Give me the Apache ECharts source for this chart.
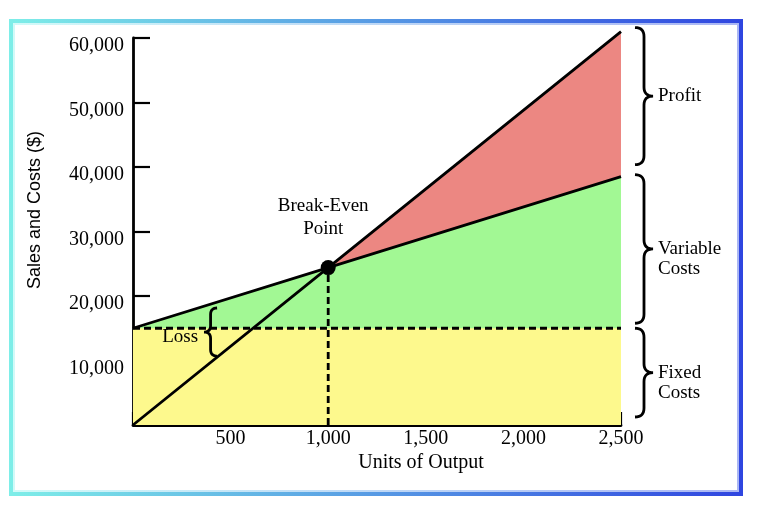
<!DOCTYPE html>
<html>
<head>
<meta charset="utf-8">
<script src="https://cdn.jsdelivr.net/npm/echarts@6/dist/echarts.min.js"></script>
<style>
    html, body { margin: 0; padding: 0; background: #fff; }
    #chart { width: 760px; height: 510px; }
</style>
</head>
<body>
<div id="chart"></div>
<script>
// chart values
var units = [0, 1000, 2500];
var sales = [0, 24400, 61000];
var totalCost = [15000, 24400, 38500];
var fixedCost = [15000, 15000, 15000];
var breakEven = [1000, 24400];
var lossAt = 400;
var xMax = 2500, xStep = 500;
var yMax = 60000, yStep = 10000;

var serif = '"Liberation Serif", "Times New Roman", serif';
var ink = '#000';

function pairs(xs, ys) {
    return xs.map(function (x, i) { return [x, ys[i]]; });
}
function fmt(v) {
    return v === 0 ? '' : v.toLocaleString('en-US');
}
// value of a polyline at x, for placing annotations
function valueAt(xs, ys, x) {
    for (var i = 1; i < xs.length; i++) {
        if (x <= xs[i]) {
            var t = (x - xs[i - 1]) / (xs[i] - xs[i - 1]);
            return ys[i - 1] + t * (ys[i] - ys[i - 1]);
        }
    }
    return ys[ys.length - 1];
}

function areaSeries(ys, color) {
    return {
        type: 'line',
        data: pairs(units, ys),
        symbol: 'none',
        clip: false,
        z: 1,
        lineStyle: { width: 0 },
        areaStyle: { color: color, opacity: 1, origin: 'start' }
    };
}
function lineSeries(data, dash) {
    return {
        type: 'line',
        data: data,
        symbol: 'none',
        clip: false,
        z: 3,
        lineStyle: { color: ink, width: 2.8, type: dash || 'solid' }
    };
}

var myChart = echarts.init(document.getElementById('chart'));
var option = {
    animation: false,
    grid: { left: 133, right: 139, top: 38, bottom: 85 },
    xAxis: {
        type: 'value',
        min: 0,
        max: xMax,
        interval: xStep,
        axisLine: { lineStyle: { color: ink, width: 2.8 } },
        axisTick: { inside: true, length: 13, lineStyle: { color: ink, width: 2.2 } },
        axisLabel: { formatter: fmt, color: ink, fontFamily: serif, fontSize: 20, margin: 4 },
        splitLine: { show: false }
    },
    yAxis: {
        type: 'value',
        min: 0,
        max: yMax,
        interval: yStep,
        axisLine: { show: true, lineStyle: { color: ink, width: 2.8 } },
        axisTick: { show: true, inside: true, length: 17, lineStyle: { color: ink, width: 2.2 } },
        axisLabel: { formatter: fmt, color: ink, fontFamily: serif, fontSize: 20, margin: 9, verticalAlign: 'top', lineHeight: 16 },
        splitLine: { show: false }
    },
    series: [
        areaSeries(sales, '#ec8782'),
        areaSeries(totalCost, '#a2f894'),
        areaSeries(fixedCost, '#fdf98d'),
        lineSeries(pairs(units, fixedCost), [7, 4]),
        lineSeries([[breakEven[0], 0], breakEven], [7, 4]),
        lineSeries(pairs(units, sales)),
        lineSeries(pairs(units, totalCost)),
        {
            type: 'scatter',
            data: [breakEven],
            symbolSize: 15,
            z: 4,
            itemStyle: { color: ink, opacity: 1 }
        }
    ]
};
myChart.setOption(option);

// braces and notes, placed from the data through the grid
function px(x, y) {
    return myChart.convertToPixel({ gridIndex: 0 }, [x, y]);
}
function bracePoints(x0, y1, y2, w, dir) {
    var pts = [[x0, y1]];
    var xm = x0 + dir * w / 2, xt = x0 + dir * w, mid = (y1 + y2) / 2;
    var r = Math.min(w / 2, (y2 - y1) / 4);
    function quad(p0, c, p1) {
        for (var i = 1; i <= 8; i++) {
            var t = i / 8, u = 1 - t;
            pts.push([u * u * p0[0] + 2 * u * t * c[0] + t * t * p1[0],
                      u * u * p0[1] + 2 * u * t * c[1] + t * t * p1[1]]);
        }
    }
    quad([x0, y1], [xm, y1], [xm, y1 + r]);
    pts.push([xm, mid - r]);
    quad([xm, mid - r], [xm, mid], [xt, mid]);
    quad([xt, mid], [xm, mid], [xm, mid + r]);
    pts.push([xm, y2 - r]);
    quad([xm, y2 - r], [xm, y2], [x0, y2]);
    return pts;
}
function brace(x0, y1, y2, w, dir) {
    return {
        type: 'polyline',
        z: 10,
        shape: { points: bracePoints(x0, y1, y2, w, dir) },
        style: { fill: null, stroke: ink, lineWidth: 2.8 }
    };
}
function note(text, x, y, align, vAlign, size) {
    return {
        type: 'text',
        z: 10,
        x: x,
        y: y,
        style: {
            text: text, fill: ink, fontFamily: serif, fontSize: size || 19,
            align: align, verticalAlign: vAlign, lineHeight: 20
        }
    };
}

var last = units.length - 1;
var pSales = px(xMax, sales[last]);
var pCost = px(xMax, totalCost[last]);
var pFixed = px(xMax, fixedCost[last]);
var pZero = px(xMax, 0);
var bx = pSales[0] + 14;
var braces = [
    [pSales[1] - 4, pCost[1] - 12],
    [pCost[1] - 2, pFixed[1] - 5],
    [pFixed[1], pZero[1] - 8]
];
var rightNotes = ['Profit', 'Variable\nCosts', 'Fixed\nCosts'];

var lossTop = px(lossAt, valueAt(units, totalCost, lossAt));
var lossBottom = px(lossAt, valueAt(units, sales, lossAt));
var pBreak = px(breakEven[0], breakEven[1]);

var graphics = [
    {
        type: 'rect',
        z: 0,
        shape: { x: 11, y: 21, width: 730, height: 473 },
        style: {
            fill: null,
            lineWidth: 4,
            stroke: new echarts.graphic.LinearGradient(0, 0, 1, 0, [
                { offset: 0, color: '#7eeee8' }, { offset: 1, color: '#2f45e0' }
            ])
        }
    },
    {
        type: 'rect',
        z: 0,
        shape: { x: 14, y: 24, width: 724, height: 467 },
        style: {
            fill: null,
            lineWidth: 2,
            stroke: new echarts.graphic.LinearGradient(0, 0, 1, 0, [
                { offset: 0, color: '#d2faf8' }, { offset: 1, color: '#aab6f4' }
            ])
        }
    },
    {
        type: 'text',
        z: 10,
        x: 35,
        y: 210,
        rotation: Math.PI / 2,
        style: {
            text: 'Sales and Costs ($)', fill: ink, fontFamily: '"Liberation Sans", Arial, sans-serif',
            fontSize: 18, align: 'center', verticalAlign: 'middle'
        }
    },
    note('Units of Output', 421, 463, 'center', 'middle', 20),
    {
        type: 'text',
        z: 10,
        x: pBreak[0] - 5,
        y: pBreak[1] - 73,
        style: {
            text: 'Break-Even\nPoint', fill: ink, fontFamily: serif, fontSize: 19,
            align: 'center', verticalAlign: 'top', lineHeight: 23
        }
    },
    brace(lossTop[0] + 6, lossTop[1] + 4, lossBottom[1] - 6, 13, -1),
    note('Loss', lossTop[0] - 13, (lossTop[1] + lossBottom[1]) / 2 + 4, 'right', 'middle', 19)
];
braces.forEach(function (b, i) {
    graphics.push(brace(bx, b[0], b[1], 18, 1));
    graphics.push(note(rightNotes[i], bx + 23, (b[0] + b[1]) / 2 - 10, 'left', 'top', 19));
});
myChart.setOption({ graphic: graphics });
</script>
</body>
</html>
